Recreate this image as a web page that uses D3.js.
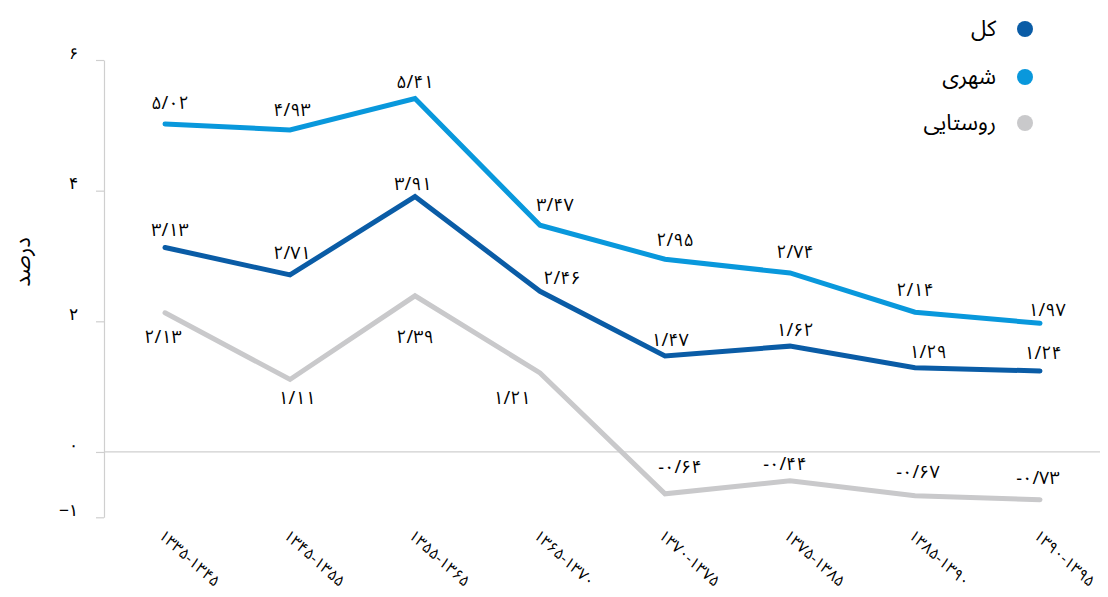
<!DOCTYPE html>
<html><head><meta charset="utf-8">
<script src="https://cdn.jsdelivr.net/npm/d3@7"></script>
<style>
html,body{margin:0;padding:0;background:#fff;}
svg{display:block;font-family:"Noto Sans Arabic","DejaVu Sans",sans-serif;}
</style></head>
<body>
<svg id="chart" width="1108" height="597"></svg>
<script>
const categories = ["۱۳۳۵-۱۳۴۵","۱۳۴۵-۱۳۵۵","۱۳۵۵-۱۳۶۵","۱۳۶۵-۱۳۷۰","۱۳۷۰-۱۳۷۵","۱۳۷۵-۱۳۸۵","۱۳۸۵-۱۳۹۰","۱۳۹۰-۱۳۹۵"];
const seriesNames = ["کل","شهری","روستایی"];
const totalValues = [3.13, 2.71, 3.91, 2.46, 1.47, 1.62, 1.29, 1.24];
const urbanValues = [5.02, 4.93, 5.41, 3.47, 2.95, 2.74, 2.14, 1.97];
const ruralValues = [2.13, 1.11, 2.39, 1.21, -0.64, -0.44, -0.67, -0.73];
const yTicks = [6, 4, 2, 0, -1];
const yTitle = "درصد";

// layout / style (not data)
const colors = ["#0A5CA6", "#0998DC", "#C9C9CB"];
const labelOffsets = [
  [[5,-17],[2,-22],[-2,-13],[22,-13],[5,-16],[5,-16],[13,-16],[3,-18]],
  [[5,-21],[2,-20],[0,-17],[15,-20],[10,-19],[5,-21],[0,-22],[7,-13]],
  [[-2,24],[7,19],[0,41],[-28,25],[15,-27],[-5,-17],[3,-24],[-2,-22]]
];

const faDigits = "۰۱۲۳۴۵۶۷۸۹";
function toFa(str){ return String(str).replace(/[0-9]/g, d => faDigits[+d]).replace(/\./g,"/").replace(/-/g,"−"); }

const svg = d3.select("#chart");
const x = d3.scaleBand().domain(categories).range([102.5, 1102.5]).padding(0);
const xc = c => x(c) + x.bandwidth()/2;
const y = d3.scaleLinear().domain([-1, 6]).range([517.3, 60]);

// zero line
svg.append("line").attr("x1", 104).attr("x2", 1100).attr("y1", y(0)).attr("y2", y(0))
  .attr("stroke", "#CFCFCF").attr("stroke-width", 1.2);

// y axis
const yAxis = svg.append("g").attr("transform", "translate(104,0)")
  .call(d3.axisLeft(y).tickValues(yTicks).tickSize(8).tickSizeOuter(0).tickPadding(18)
    .tickFormat(d => toFa(d)));
yAxis.select(".domain").attr("stroke", "#CFCFCF").attr("stroke-width", 1.2);
yAxis.selectAll(".tick line").attr("stroke", "#CFCFCF").attr("stroke-width", 1.2);
yAxis.selectAll(".tick text").attr("font-size", 17).attr("fill", "#000").attr("font-family", "inherit").attr("dy", "-0.1em");

// y title
svg.append("text").attr("transform", "translate(23,262) rotate(-90)")
  .attr("text-anchor", "middle").attr("dominant-baseline", "central")
  .attr("font-size", 22).attr("fill", "#000").text(yTitle);

// x labels
svg.append("g").selectAll("text").data(categories).join("text")
  .attr("transform", d => `translate(${xc(d) - 4},${533}) rotate(42)`)
  .attr("text-anchor", "start").attr("dominant-baseline", "central")
  .attr("direction", "ltr")
  .attr("font-size", 15.5).attr("fill", "#000").text(d => d);

// lines
const allSeries = [totalValues, urbanValues, ruralValues];
const line = d3.line().x((d, i) => xc(categories[i])).y(d => y(d));
[2, 0, 1].forEach(s => {
  svg.append("path").datum(allSeries[s]).attr("d", line)
    .attr("fill", "none").attr("stroke", colors[s]).attr("stroke-width", 5)
    .attr("stroke-linecap", "round").attr("stroke-linejoin", "miter");
});

// data labels
allSeries.forEach((vals, s) => {
  svg.append("g").selectAll("text").data(vals).join("text")
    .attr("x", (d, i) => xc(categories[i]) + labelOffsets[s][i][0])
    .attr("y", (d, i) => y(d) + labelOffsets[s][i][1])
    .attr("text-anchor", "middle").attr("dominant-baseline", "central")
    .attr("direction", "ltr")
    .attr("font-size", 18).attr("fill", "#000")
    .text(d => toFa(d.toFixed(2)));
});

// legend
const legY = [29, 77, 123];
const leg = svg.append("g");
seriesNames.forEach((n, i) => {
  leg.append("circle").attr("cx", 1025).attr("cy", legY[i]).attr("r", 8).attr("fill", colors[i]);
  leg.append("text").attr("x", 996).attr("y", legY[i]).attr("text-anchor", "end")
    .attr("dominant-baseline", "central").attr("font-size", 22).attr("fill", "#000").text(n);
});
</script>
</body></html>
